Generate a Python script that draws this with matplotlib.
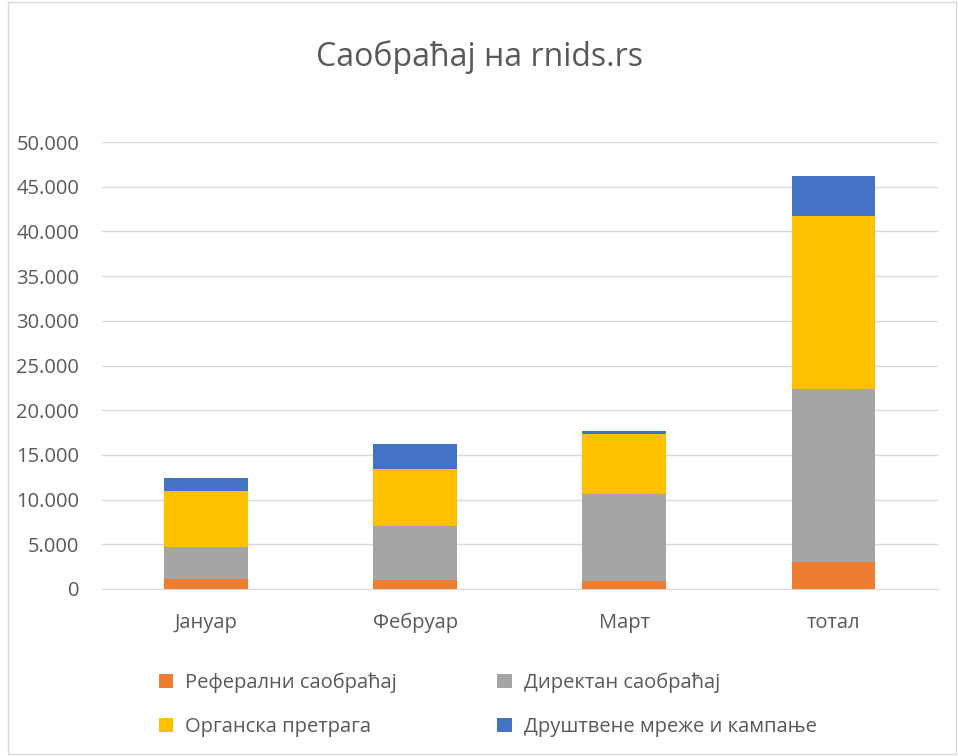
import matplotlib.pyplot as plt
from matplotlib.patches import Rectangle
from matplotlib.ticker import FuncFormatter
import numpy as np

plt.rcParams['font.family'] = ['Open Sans', 'DejaVu Sans']

categories = ['Јануар', 'Фебруар', 'Март', 'тотал']
referal = [1150, 1000, 900, 3050]
direct = [3500, 6080, 9760, 19340]
organic = [6340, 6340, 6710, 19390]
social = [1380, 2780, 300, 4460]

series = [
    ('Реферални саобраћај', referal, '#ED7D31'),
    ('Директан саобраћај', direct, '#A5A5A5'),
    ('Органска претрага', organic, '#FFC000'),
    ('Друштвене мреже и кампање', social, '#4472C4'),
]

text_col = '#595959'

fig = plt.figure(figsize=(9.58, 7.56), dpi=100)
fig.patches.append(Rectangle((0.008, 0.002), 0.99, 0.996, transform=fig.transFigure,
                             fill=False, edgecolor='#d9d9d9', linewidth=1))
ax = fig.add_axes([0.106, 0.221, 0.873, 0.591])

x = np.arange(len(categories))
bottom = np.zeros(len(categories))
handles = []
for name, vals, col in series:
    b = ax.bar(x, vals, width=0.4, bottom=bottom, color=col, label=name, zorder=3)
    handles.append(b)
    bottom += np.array(vals)

ax.set_xlim(-0.5, 3.5)
ax.set_ylim(0, 50000)
ax.set_yticks(np.arange(0, 50001, 5000))
ax.yaxis.set_major_formatter(FuncFormatter(lambda v, p: f'{int(v):,}'.replace(',', '.')))
ax.set_xticks(x)
ax.set_xticklabels(categories)
ax.grid(axis='y', color='#d9d9d9', linewidth=1, zorder=0)
for s in ['top', 'right', 'left']:
    ax.spines[s].set_visible(False)
ax.spines['bottom'].set_color('#d9d9d9')
ax.tick_params(axis='both', length=0, labelsize=14.5, colors=text_col)
ax.tick_params(axis='y', pad=16)
ax.tick_params(axis='x', pad=17)

fig.text(0.5, 0.925, 'Саобраћај на rnids.rs', ha='center', va='center', fontsize=23, color=text_col)

order = [0, 2, 1, 3]
fig.legend([handles[i] for i in order], [series[i][0] for i in order],
           loc='center', bbox_to_anchor=(0.509, 0.068), ncol=2, frameon=False,
           fontsize=14.5, labelcolor=text_col, handlelength=0.7, handleheight=0.7,
           columnspacing=5.0, labelspacing=1.2, handletextpad=0.6)

fig.savefig('out.png', dpi=100)
